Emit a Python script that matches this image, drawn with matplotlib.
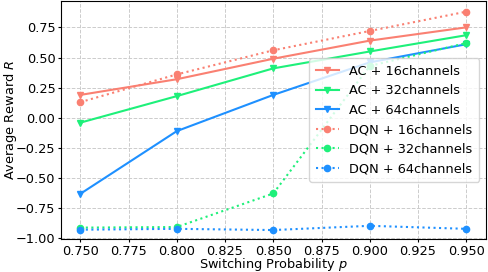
import numpy as np
import matplotlib
matplotlib.use("Agg")
import matplotlib.pyplot as plt

# Data
p = [0.75, 0.80, 0.85, 0.90, 0.95]
ac_16 = [0.19, 0.32, 0.49, 0.64, 0.75]
ac_32 = [-0.04, 0.18, 0.41, 0.55, 0.685]
ac_64 = [-0.63, -0.11, 0.19, 0.46, 0.61]
dqn_16 = [0.13, 0.36, 0.56, 0.72, 0.88]
dqn_32 = [-0.91, -0.905, -0.627, 0.43, 0.62]
dqn_64 = [-0.927, -0.92, -0.93, -0.895, -0.92]

salmon = '#fa8072'
green = '#1ef07a'
blue = '#1e90ff'

plt.rcParams["font.size"] = 9.3
plt.rcParams["xtick.major.size"] = 2.5
plt.rcParams["ytick.major.size"] = 2.5
plt.rcParams["xtick.major.pad"] = 1.5
plt.rcParams["ytick.major.pad"] = 1.5

fig = plt.figure(figsize=(4.88, 2.72), dpi=100)
ax = fig.add_axes([0.125, 0.121, 0.87, 0.876])

ax.plot(p, ac_16, color=salmon, marker='v', markersize=5, linestyle='-', label='AC + 16channels')
ax.plot(p, ac_32, color=green, marker='v', markersize=5, linestyle='-', label='AC + 32channels')
ax.plot(p, ac_64, color=blue, marker='v', markersize=5, linestyle='-', label='AC + 64channels')
ax.plot(p, dqn_16, color=salmon, marker='o', markersize=4.5, linestyle=':', label='DQN + 16channels')
ax.plot(p, dqn_32, color=green, marker='o', markersize=4.5, linestyle=':', label='DQN + 32channels')
ax.plot(p, dqn_64, color=blue, marker='o', markersize=4.5, linestyle=':', label='DQN + 64channels')

ax.set_xlim(0.74, 0.96)
ax.set_ylim(-1.005, 0.97)
ax.set_xticks([0.75, 0.775, 0.8, 0.825, 0.85, 0.875, 0.9, 0.925, 0.95])
ax.set_xticklabels(['0.750', '0.775', '0.800', '0.825', '0.850', '0.875', '0.900', '0.925', '0.950'])
ax.set_yticks([-1.0, -0.75, -0.5, -0.25, 0.0, 0.25, 0.5, 0.75])
ax.grid(True, linestyle='--', color='#cccccc', linewidth=0.7)
ax.set_xlabel('Switching Probability $p$')
ax.set_ylabel('Average Reward $R$')
ax.xaxis.set_label_coords(0.5, -0.072)
ax.yaxis.set_label_coords(-0.099, 0.5)
ax.legend(loc='center right', fontsize=9.3, handlelength=1.8, borderpad=0.5,
          labelspacing=0.5, handletextpad=0.8)

fig.savefig('out.png', dpi=100)
